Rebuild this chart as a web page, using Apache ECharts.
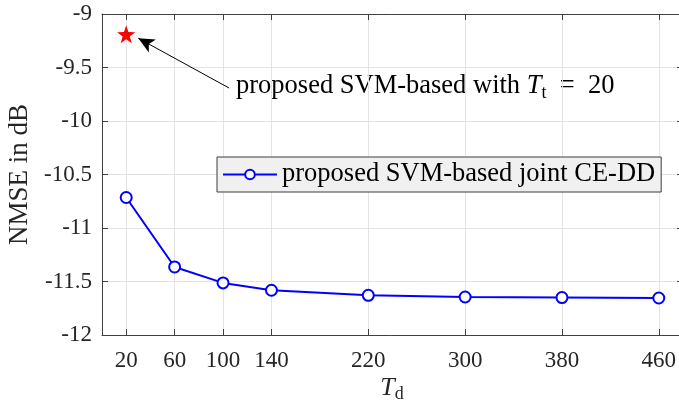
<!DOCTYPE html>
<html>
<head>
<meta charset="utf-8">
<script src="https://cdn.jsdelivr.net/npm/echarts@6/dist/echarts.min.js"></script>
<style>
  html, body { margin: 0; padding: 0; background: #fff; }
  #chart { width: 679px; height: 402px; }
</style>
</head>
<body>
<div id="chart"></div>
<script>
// Training-length sweep of the joint CE-DD scheme
const tdValues = [20, 60, 100, 140, 220, 300, 380, 460];
const nmseJoint = [-10.715, -11.364, -11.513, -11.582, -11.629, -11.645, -11.650, -11.654];
// Reference point: SVM-based estimator trained with T_t = 20
const refPointX = [20];
const refPointY = [-9.19];
// Arrow pointing at the reference point (data coordinates: tail, head)
const arrowTail = [105, -9.692];
const arrowHead = [30, -9.227];
const xTickValues = [20, 60, 100, 140, 220, 300, 380, 460];

const FONT = "'Liberation Serif', 'Times New Roman', serif";
const AXIS_COLOR = '#404040';
const GRID_COLOR = '#e3e3e3';
const STAR = 'path://M0,-10 L2.35,-3.24 L9.51,-3.09 L3.8,1.24 L5.88,8.09 L0,4 L-5.88,8.09 L-3.8,1.24 L-9.51,-3.09 L-2.35,-3.24 Z';

const chart = echarts.init(document.getElementById('chart'), null, { renderer: 'canvas' });

const tickInside = { show: true, inside: true, length: 6, lineStyle: { color: AXIS_COLOR, width: 1 } };

chart.setOption({
  animation: false,
  backgroundColor: '#ffffff',
  grid: { left: 102, top: 14, width: 581, height: 321, containLabel: false, outerBoundsMode: 'none' },
  xAxis: [
    {
      type: 'value', min: 0, max: 480, position: 'bottom',
      axisLine: { show: true, onZero: false, lineStyle: { color: AXIS_COLOR, width: 1 } },
      axisTick: Object.assign({ customValues: xTickValues }, tickInside),
      axisLabel: {
        customValues: xTickValues, color: '#262626', fontFamily: FONT, fontSize: 23, margin: 14
      },
      splitLine: { show: true, customValues: xTickValues, lineStyle: { color: GRID_COLOR, width: 1 } }
    },
    {
      type: 'value', min: 0, max: 480, position: 'top',
      axisLine: { show: true, onZero: false, lineStyle: { color: AXIS_COLOR, width: 1 } },
      axisTick: Object.assign({ customValues: xTickValues }, tickInside),
      axisLabel: { show: false },
      splitLine: { show: false }
    }
  ],
  yAxis: [
    {
      type: 'value', min: -12, max: -9, interval: 0.5, position: 'left',
      axisLine: { show: true, onZero: false, lineStyle: { color: AXIS_COLOR, width: 1 } },
      axisTick: tickInside,
      axisLabel: { color: '#262626', fontFamily: FONT, fontSize: 23, margin: 10 },
      splitLine: { show: true, lineStyle: { color: GRID_COLOR, width: 1 } },
      name: 'NMSE in dB',
      nameLocation: 'middle',
      nameRotate: 90,
      nameGap: 63,
      nameTextStyle: { fontFamily: FONT, fontSize: 27, color: '#262626' }
    },
    {
      type: 'value', min: -12, max: -9, interval: 0.5, position: 'right',
      axisLine: { show: true, onZero: false, lineStyle: { color: AXIS_COLOR, width: 1 } },
      axisTick: tickInside,
      axisLabel: { show: false },
      splitLine: { show: false }
    }
  ],
  legend: {
    show: true,
    left: 217, top: 157,
    orient: 'horizontal',
    data: ['proposed SVM-based joint CE-DD'],
    backgroundColor: '#f0f0f0',
    borderColor: '#3c3c3c',
    borderWidth: 1,
    borderRadius: 0,
    padding: [3, 6, 3, 5],
    itemWidth: 54,
    itemHeight: 12,
    itemGap: 4,
    textStyle: { fontFamily: FONT, fontSize: 26.5, lineHeight: 29, color: '#000' }
  },
  series: [
    {
      name: 'proposed SVM-based joint CE-DD',
      type: 'line',
      data: tdValues.map((x, i) => [x, nmseJoint[i]]),
      symbol: 'circle',
      symbolSize: 11,
      showAllSymbol: true,
      lineStyle: { color: '#0000ff', width: 2 },
      itemStyle: { color: '#ffffff', borderColor: '#0000ff', borderWidth: 2 },
      z: 3
    },
    {
      name: 'reference',
      type: 'scatter',
      data: refPointX.map((x, i) => [x, refPointY[i]]),
      symbol: STAR,
      symbolSize: 18,
      itemStyle: { color: '#ff0000', opacity: 1 },
      z: 4,
      markLine: {
        silent: true,
        symbol: ['none', 'arrow'],
        symbolSize: [11, 16],
        lineStyle: { color: '#000', width: 1, type: 'solid' },
        label: { show: false },
        data: [[{ coord: arrowTail }, { coord: arrowHead }]]
      }
    }
  ],
  graphic: [
    {
      // annotation next to the arrow
      type: 'text',
      left: 236,
      top: 70,
      style: {
        text: 'proposed SVM-based with {it|T}{sub|t}  =  20',
        fontFamily: FONT,
        fontSize: 26.5,
        fill: '#000',
        lineHeight: 32,
        rich: {
          it: { fontFamily: FONT, fontStyle: 'italic', fontSize: 26.5, fill: '#000', lineHeight: 32 },
          sub: { fontFamily: FONT, fontSize: 18, fill: '#000', verticalAlign: 'bottom', lineHeight: 18 }
        }
      }
    },
    {
      // x-axis title T_d
      type: 'text',
      x: 392,
      y: 373,
      style: {
        text: '{it|T}{sub|d}',
        align: 'center',
        verticalAlign: 'top',
        fontFamily: FONT,
        fontSize: 26,
        fill: '#262626',
        lineHeight: 30,
        rich: {
          it: { fontFamily: FONT, fontStyle: 'italic', fontSize: 26, fill: '#262626', lineHeight: 30 },
          sub: { fontFamily: FONT, fontSize: 18, fill: '#262626', verticalAlign: 'bottom', lineHeight: 20 }
        }
      }
    }
  ]
});
</script>
</body>
</html>
